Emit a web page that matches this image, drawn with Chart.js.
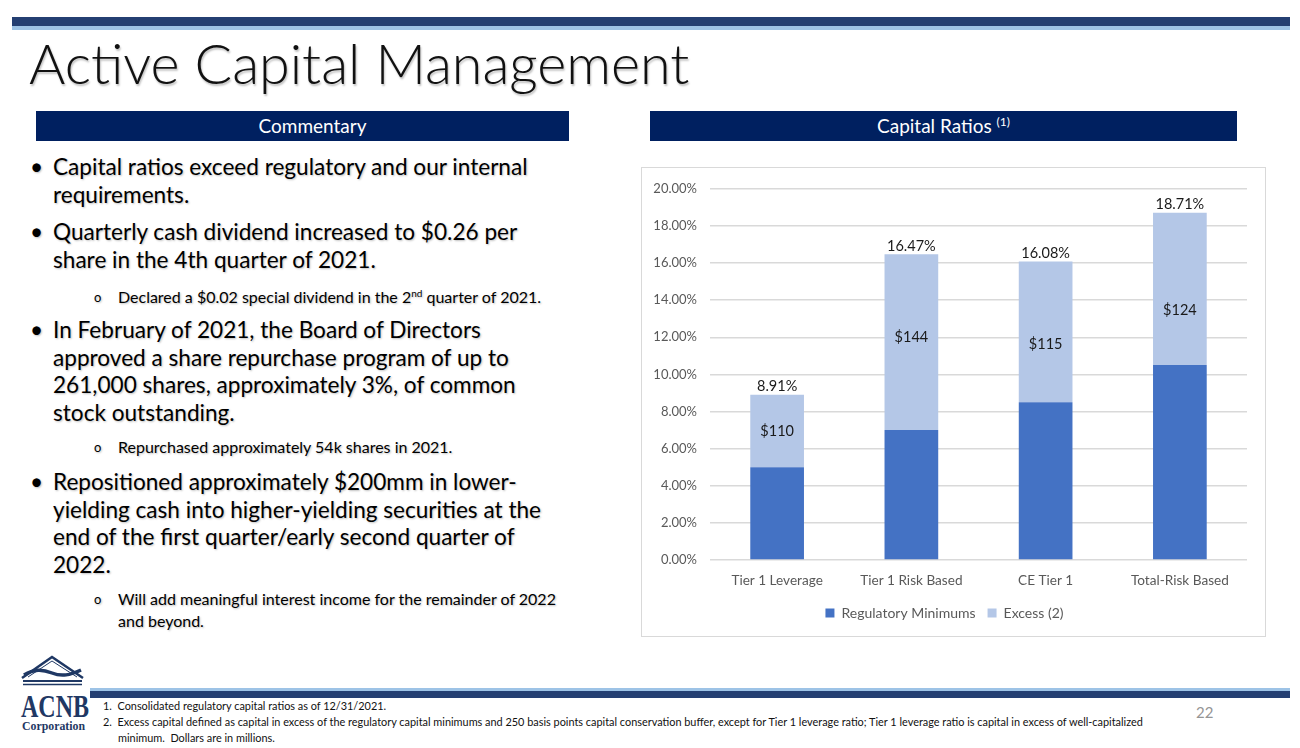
<!DOCTYPE html>
<html>
<head>
<meta charset="utf-8">
<script src="https://cdn.jsdelivr.net/npm/chart.js@4/dist/chart.umd.min.js"></script>
<style>
  html, body { margin: 0; padding: 0; background: #fff; }
  body { width: 1300px; height: 748px; position: relative; overflow: hidden; font-family: Lato, "Open Sans", sans-serif; color: #000; }
  .abs { position: absolute; }
  .topbar { left: 12px; top: 17px; width: 1278px; height: 9px; background: #243f72; }
  .topbar2 { left: 12px; top: 26px; width: 1278px; height: 4px; background: #9dc3e6; }
  .title { left: 29px; top: 29px; font-size: 55.6px; font-weight: 300; color: #111; text-shadow: 1px 2px 2px rgba(0,0,0,0.25); white-space: nowrap; }
  .hdr { background: #002060; color: #fff; font-size: 19px; text-align: center; line-height: 30px; height: 30px; }
  .hdr sup { font-size: 12px; position: relative; top: -7px; vertical-align: baseline; line-height: 0; }
  .bul { left: 30px; width: 560px; font-size: 22.6px; line-height: 27.6px; text-shadow: 1px 1px 2px rgba(0,0,0,0.25); }
  .bul .b { position: absolute; left: 0; }
  .bul .t { position: absolute; left: 23px; white-space: nowrap; }
  .sub { font-size: 16px; line-height: 22px; }
  .sub .o { position: absolute; left: 64px; font-size: 13px; }
  .sub .t { left: 88px; }
  .chartbox { left: 641px; top: 167px; width: 625px; height: 470px; border: 1.5px solid #d9d9d9; box-sizing: border-box; }
  .foot { left: 103px; font-size: 10.9px; color: #111; white-space: nowrap; }
  .botbar1 { left: 90px; top: 688px; width: 1200px; height: 3px; background: #9dc3e6; }
  .botbar2 { left: 90px; top: 691px; width: 1200px; height: 7px; background: #243f72; }
</style>
</head>
<body>
<div class="abs topbar"></div>
<div class="abs topbar2"></div>
<div class="abs title">Active Capital Management</div>

<div class="abs hdr" style="left:36px; top:111px; width:533px; box-sizing:border-box; padding-left:20px;">Commentary</div>
<div class="abs hdr" style="left:650px; top:111px; width:587px;">Capital Ratios <sup>(1)</sup></div>

<div class="abs bul" style="top:153px;"><span class="b">•</span><span class="t">Capital ratios exceed regulatory and our internal<br>requirements.</span></div>
<div class="abs bul" style="top:218px;"><span class="b">•</span><span class="t">Quarterly cash dividend increased to $0.26 per<br>share in the 4th quarter of 2021.</span></div>
<div class="abs bul sub" style="top:286px;"><span class="o">o</span><span class="t">Declared a $0.02 special dividend in the 2<sup style="font-size:10px; line-height:0;">nd</sup> quarter of 2021.</span></div>
<div class="abs bul" style="top:316px;"><span class="b">•</span><span class="t">In February of 2021, the Board of Directors<br>approved a share repurchase program of up to<br>261,000 shares, approximately 3%, of common<br>stock outstanding.</span></div>
<div class="abs bul sub" style="top:436px;"><span class="o">o</span><span class="t">Repurchased approximately 54k shares in 2021.</span></div>
<div class="abs bul" style="top:468px;"><span class="b">•</span><span class="t">Repositioned approximately $200mm in lower-<br>yielding cash into higher-yielding securities at the<br>end of the first quarter/early second quarter of<br>2022.</span></div>
<div class="abs bul sub" style="top:588px;"><span class="o">o</span><span class="t">Will add meaningful interest income for the remainder of 2022<br>and beyond.</span></div>

<div class="abs chartbox"></div>
<div class="abs" style="left:642px; top:168px; width:623px; height:468px;"><canvas id="ratioCanvas"></canvas></div>

<div class="abs botbar1"></div>
<div class="abs botbar2"></div>
<svg class="abs" style="left:0; top:645px;" width="100" height="100" viewBox="0 0 100 100">
  <g fill="none" stroke="#1f3864">
    <path d="M22 33 L52 12 L83 33" stroke-width="2.5"/>
    <path d="M28 32 L52 16 L77 32" stroke-width="1"/>
    <path d="M24 30 C34 24 42 24 52 28 C62 32 70 30 81 25" stroke-width="3.5"/>
    <path d="M23 36 L82 36" stroke-width="2"/>
    <path d="M23 39.5 L82 39.5" stroke-width="1.5"/>
  </g>
  <text x="55" y="72" font-family="Liberation Serif, serif" font-size="32" font-weight="bold" fill="#1f3864" text-anchor="middle" textLength="68" lengthAdjust="spacingAndGlyphs">ACNB</text>
  <text x="53.5" y="85" font-family="Liberation Serif, serif" font-size="12.5" font-weight="bold" fill="#1f3864" text-anchor="middle" textLength="63" lengthAdjust="spacingAndGlyphs">Corporation</text>
</svg>
<div class="abs foot" style="top:699px;">1.&nbsp;&nbsp;Consolidated regulatory capital ratios as of 12/31/2021.</div>
<div class="abs foot" style="top:715px;">2.&nbsp;&nbsp;Excess capital defined as capital in excess of the regulatory capital minimums and 250 basis points capital conservation buffer, except for Tier 1 leverage ratio; Tier 1 leverage ratio is capital in excess of well-capitalized</div>
<div class="abs foot" style="top:731px; left:118px;">minimum.&nbsp; Dollars are in millions.</div>
<div class="abs" style="left:1196px; top:703px; font-size:15px; color:#959595;">22</div>

<script>
// Capital ratios (%)
const CATEGORIES = ["Tier 1 Leverage", "Tier 1 Risk Based", "CE Tier 1", "Total-Risk Based"];
const REGULATORY_MINIMUMS = [5.00, 7.00, 8.50, 10.50];
const TOTAL_RATIOS = [8.91, 16.47, 16.08, 18.71];
const EXCESS_DOLLARS = ["$110", "$144", "$115", "$124"]; // millions
const Y_TICKS = [0, 2, 4, 6, 8, 10, 12, 14, 16, 18, 20];

const excessValues = TOTAL_RATIOS.map((t, i) => +(t - REGULATORY_MINIMUMS[i]).toFixed(2));

// draws the $ labels inside excess bars and totals on top
const barLabels = {
    id: "barLabels",
    afterDatasetsDraw(chart, args, opts) {
        const ctx = chart.ctx;
        const meta = chart.getDatasetMeta(1);
        const nudge = opts.nudge || [];
        ctx.save();
        ctx.fillStyle = "#1a1a1a";
        ctx.textAlign = "center";
        ctx.font = "14.5px Lato, sans-serif";
        meta.data.forEach((bar, i) => {
            ctx.textBaseline = "middle";
            ctx.fillText(EXCESS_DOLLARS[i], bar.x, (bar.y + bar.base) / 2 + (nudge[i] || 0));
            ctx.textBaseline = "bottom";
            ctx.fillText(TOTAL_RATIOS[i].toFixed(2) + "%", bar.x, bar.y - 1);
        });
        ctx.restore();
    }
};

window.addEventListener("DOMContentLoaded", () => {
    const ctx = document.getElementById("ratioCanvas").getContext("2d");

    new Chart(ctx, {
        type: "bar",
        data: {
            labels: CATEGORIES,
            datasets: [
                {
                    label: "Regulatory Minimums",
                    data: REGULATORY_MINIMUMS,
                    backgroundColor: "#4472c4",
                    barPercentage: 0.4,
                    categoryPercentage: 1.0
                },
                {
                    label: "Excess (2)",
                    data: excessValues,
                    backgroundColor: "#b4c7e7",
                    barPercentage: 0.4,
                    categoryPercentage: 1.0
                }
            ]
        },
        options: {
            responsive: true,
            maintainAspectRatio: false,
            animation: false,
            layout: { padding: { left: 0, right: 18, top: 19, bottom: 6 } },
            scales: {
                x: {
                    stacked: true,
                    grid: { display: false },
                    border: { display: false },
                    ticks: { color: "#595959", font: { size: 13.6, family: "Lato" }, padding: 4 },
                    afterFit: (scale) => { scale.height = 34; }
                },
                y: {
                    stacked: true,
                    min: 0,
                    max: 20,
                    afterBuildTicks: (scale) => { scale.ticks = Y_TICKS.map(v => ({ value: v })); },
                    grid: { color: "#d9d9d9", lineWidth: 1.5, drawTicks: false },
                    border: { display: false },
                    ticks: {
                        color: "#595959",
                        font: { size: 13, family: "Lato" },
                        padding: 13,
                        callback: (v) => v.toFixed(2) + "%"
                    },
                    afterFit: (scale) => { scale.width = 68; }
                }
            },
            plugins: {
                legend: {
                    position: "bottom",
                    labels: {
                        color: "#595959",
                        font: { size: 14, family: "Lato" },
                        boxWidth: 9,
                        boxHeight: 9,
                        padding: 12
                    }
                },
                barLabels: { nudge: [0, -5, 12, 21] },
                tooltip: { enabled: false }
            }
        },
        plugins: [barLabels]
    });
});
</script>
</body>
</html>
